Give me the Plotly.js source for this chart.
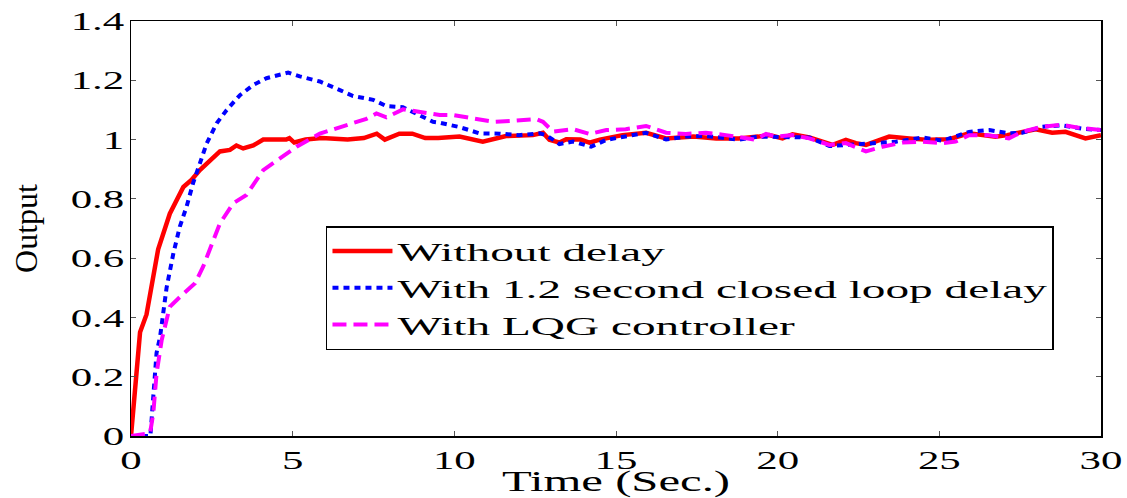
<!DOCTYPE html>
<html>
<head>
<meta charset="utf-8">
<script src="https://cdn.plot.ly/plotly-3.0.1.min.js"></script>
<style>
html,body{margin:0;padding:0;background:#fff;}
.legendtext { transform: scaleX(1.82); transform-box: fill-box; transform-origin: left center; }
.xtitle { transform: scaleX(1.68); transform-box: fill-box; transform-origin: center; }
</style>
</head>
<body>
<div id="chart" style="width:1127px;height:498px;"></div>
<script>
// Series 1: Without delay
const tNoDelay = [0,0.12,0.28,0.48,0.84,1.2,1.62,1.87,2.13,2.75,3.06,3.26,3.47,3.78,4.09,4.8,4.9,5.05,5.4,5.9,6.7,7.2,7.6,7.85,8.3,8.7,9.1,9.5,10.16,10.88,11.6,12.43,12.74,12.94,13.25,13.46,13.9,14.18,14.5,15.2,15.93,16.55,17.4,18.1,18.8,19.4,19.74,20.15,20.46,20.98,21.7,22.11,22.42,22.73,23.14,23.45,24.07,24.68,25.3,25.92,26.74,27.1,27.98,28.49,28.9,29.52,30];
const yNoDelay = [0,0.17,0.35,0.41,0.63,0.75,0.84,0.864,0.897,0.96,0.965,0.98,0.97,0.98,1.0,1.0,1.005,0.99,1.0,1.005,1.0,1.005,1.02,1.0,1.02,1.02,1.005,1.005,1.01,0.993,1.012,1.015,1.023,0.999,0.99,1.001,1.0,0.99,1.0,1.015,1.023,1.004,1.01,1.004,1.004,1.01,1.015,1.004,1.018,1.007,0.982,0.999,0.988,0.982,0.996,1.01,1.004,0.999,1.001,1.021,1.01,1.015,1.035,1.023,1.026,1.004,1.015];

// Series 2: With 1.2 second closed loop delay
const tDelay = [0,0.6,0.68,0.79,0.9,1.1,1.31,1.51,1.72,1.92,2.13,2.34,2.65,2.96,3.37,3.78,4.19,4.6,4.86,5.22,5.84,6.46,6.87,7.49,7.9,8.41,8.93,9.34,9.55,10.16,10.78,11.4,12.0,12.64,12.84,13.25,13.67,14.23,14.7,15.3,15.93,16.55,17.16,17.78,18.8,19.4,19.74,20.36,20.98,21.6,22.2,22.83,23.66,24.48,25.1,25.92,26.55,27.15,27.56,28.17,28.79,29.4,30];
const yDelay = [0,0,0.12,0.28,0.335,0.5,0.616,0.706,0.774,0.853,0.92,0.987,1.055,1.1,1.15,1.184,1.207,1.218,1.226,1.213,1.196,1.167,1.147,1.134,1.113,1.109,1.083,1.06,1.057,1.042,1.021,1.02,1.015,1.021,1.015,0.985,0.993,0.976,0.999,1.01,1.023,1.0,1.01,1.012,1.0,1.01,1.01,1.01,1.007,0.978,0.982,0.988,0.993,1.007,0.996,1.026,1.032,1.021,1.023,1.043,1.048,1.037,1.032];

// Series 3: With LQG controller
const tLqg = [0,0.59,0.69,0.79,0.95,1.2,1.62,1.98,2.23,2.75,3.16,3.57,4.09,4.81,5.12,5.84,6.66,7.28,7.59,7.9,8.41,8.93,9.55,9.96,10.58,11.2,11.92,12.53,12.74,13.05,13.67,14.18,14.7,15.3,15.93,16.55,17.16,17.78,18.4,19.02,19.3,19.64,19.95,20.46,20.98,21.6,22.11,22.73,23.24,23.87,24.48,25.1,25.5,25.92,26.5,27.15,27.56,28.17,28.79,29.3,30];
const yLqg = [0,0.01,0.077,0.21,0.324,0.436,0.48,0.515,0.571,0.717,0.785,0.813,0.897,0.954,0.976,1.02,1.05,1.07,1.088,1.075,1.102,1.094,1.083,1.083,1.072,1.06,1.064,1.069,1.06,1.027,1.035,1.019,1.032,1.035,1.046,1.023,1.019,1.023,1.015,1.007,1.0,1.019,1.01,1.015,1.004,0.982,0.988,0.96,0.976,0.99,0.993,0.988,0.993,1.015,1.015,1.004,1.026,1.043,1.05,1.04,1.032];

const seriesNames = ['Without delay','With 1.2 second closed loop delay','With LQG controller'];
const xTicks = [0,5,10,15,20,25,30];
const yTicks = [0,0.2,0.4,0.6,0.8,1,1.2,1.4];

const serif = 'Liberation Serif, Times New Roman, serif';

const traces = [
  {x:tNoDelay, y:yNoDelay, name:seriesNames[0], mode:'lines',
   line:{color:'#ff0000', width:4.5, dash:'solid'}},
  {x:tDelay, y:yDelay, name:seriesNames[1], mode:'lines',
   line:{color:'#0000ff', width:4, dash:'6px,5px'}},
  {x:tLqg, y:yLqg, name:seriesNames[2], mode:'lines',
   line:{color:'#ff00ff', width:4, dash:'14px,7px'}}
];

const axisCommon = {
  showgrid:false, zeroline:false, showline:true, linecolor:'#000', linewidth:1.5,
  mirror:'ticks', ticks:'inside', ticklen:5, tickcolor:'#555', tickwidth:1,
  tickfont:{family:serif, size:26, color:'#000'}
};

const layout = {
  width:1127, height:498,
  margin:{l:131, r:26, t:21, b:62},
  paper_bgcolor:'#fff', plot_bgcolor:'#fff',
  showlegend:true,
  legend:{x:0.201, y:0.506, xanchor:'left', yanchor:'top',
    bgcolor:'#fff', bordercolor:'#000', borderwidth:1.5,
    font:{family:serif, size:26, color:'#000'}, itemwidth:60,
    tracegroupgap:0},
  xaxis:Object.assign({}, axisCommon, {
    range:[0,30], tickvals:xTicks, ticktext:xTicks.map(String),
    title:{text:'Time (Sec.)', font:{family:serif, size:29, color:'#000'}, standoff:0}
  }),
  yaxis:Object.assign({}, axisCommon, {
    range:[0,1.4], tickvals:yTicks, ticktext:yTicks.map(String),
    title:{text:'Output', font:{family:serif, size:32, color:'#000'}, standoff:44}
  })
};

// widen tick label glyphs horizontally around their anchor point
function stretchTickLabels(gd) {
  gd.querySelectorAll('.xtick text, .ytick text').forEach(function (el) {
    const bb = el.getBBox();
    const anchor = el.getAttribute('text-anchor') || 'start';
    let cx = bb.x;
    if (anchor === 'middle') cx = bb.x + bb.width / 2;
    else if (anchor === 'end') cx = bb.x + bb.width;
    const prev = el.getAttribute('transform') || '';
    el.setAttribute('transform', prev + ' translate(' + cx + ',0) scale(1.65,1) translate(' + (-cx) + ',0)');
  });
}

Plotly.newPlot('chart', traces, layout, {displayModeBar:false, staticPlot:true})
  .then(stretchTickLabels);
</script>
</body>
</html>
